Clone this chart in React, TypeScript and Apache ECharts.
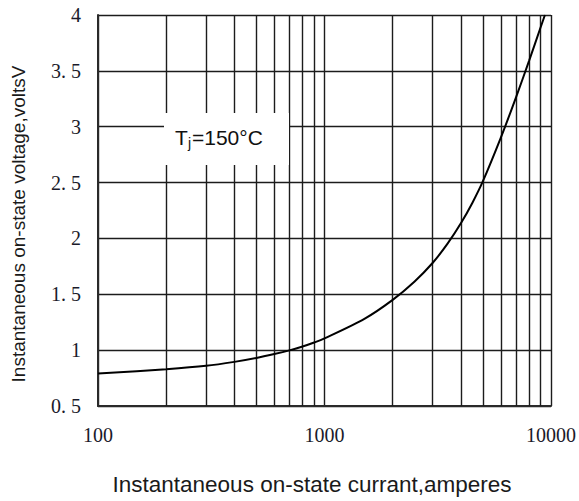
import React, { useEffect, useRef } from "react";
import * as echarts from "echarts";

const currentA = [100, 200, 300, 400, 500, 600, 700, 800, 900, 1000, 1500, 2000, 2500, 3000, 3500, 4000, 4500, 5000, 6000, 7000, 8000, 9000, 9400];
const voltageV = [0.79, 0.83, 0.86, 0.895, 0.93, 0.965, 0.998, 1.032, 1.068, 1.105, 1.28, 1.45, 1.615, 1.78, 1.955, 2.135, 2.32, 2.51, 2.9, 3.26, 3.59, 3.89, 4.0];
const minorGridX = [200, 300, 400, 500, 600, 700, 800, 900, 2000, 3000, 4000, 5000, 6000, 7000, 8000, 9000];
const yTickLabels = ["0. 5", "1", "1. 5", "2", "2. 5", "3", "3. 5", "4"];
const xTitle = "Instantaneous on-state currant,amperes";
const yTitle = "Instantaneous on-state voltage,voltsV";

export default function App() {
  const ref = useRef<HTMLDivElement>(null);
  useEffect(() => {
    document.body.style.margin = "0";
    if (!ref.current) return;
    const chart = echarts.init(ref.current, null, { renderer: "svg" });
    const gridColor = "#1c1c1c";
    const sans = "Liberation Sans, Arial, sans-serif";
    chart.setOption({
      animation: false,
      backgroundColor: "#ffffff",
      grid: { left: 98, right: 27, top: 15, bottom: 95, containLabel: false },
      xAxis: {
        type: "log",
        logBase: 10,
        min: 100,
        max: 10000,
        axisLine: { show: true, onZero: false, lineStyle: { color: "#2a2a2a", width: 2 } },
        axisTick: { show: false },
        splitLine: { show: true, lineStyle: { color: gridColor, width: 1.4 } },
        axisLabel: {
          margin: 19,
          fontFamily: "Liberation Serif, serif",
          fontSize: 20,
          color: "#1a1a2a",
          formatter: (v: number) => String(Math.round(v)),
        },
      },
      yAxis: {
        type: "value",
        min: 0.5,
        max: 4,
        interval: 0.5,
        axisLine: { show: true, lineStyle: { color: "#2a2a2a", width: 2 } },
        axisTick: { show: false },
        splitLine: { show: true, lineStyle: { color: gridColor, width: 1.4 } },
        axisLabel: {
          margin: 17,
          fontFamily: "Liberation Serif, serif",
          fontSize: 20,
          color: "#1a1a2a",
          formatter: (v: number) => yTickLabels[Math.round((v - 0.5) / 0.5)] ?? "",
        },
      },
      series: [
        {
          type: "line",
          data: currentA.map((x, i) => [x, voltageV[i]]),
          smooth: 0.3,
          showSymbol: false,
          clip: true,
          lineStyle: { color: "#000000", width: 2 },
          markLine: {
            silent: true,
            symbol: "none",
            label: { show: false },
            lineStyle: { color: gridColor, width: 1.4, type: "solid" },
            data: minorGridX.map((x) => ({ xAxis: x })),
          },
          z: 5,
        },
      ],
      graphic: [
        { type: "rect", z: 100, shape: { x: 164, y: 113, width: 125, height: 52 }, style: { fill: "#ffffff" } },
        { type: "text", z: 101, x: 175, y: 137, style: { text: "T", fontFamily: sans, fontSize: 21, fill: "#111", verticalAlign: "middle", align: "left" } },
        { type: "text", z: 101, x: 188, y: 143, style: { text: "j", fontFamily: sans, fontSize: 14, fill: "#111", verticalAlign: "middle", align: "left" } },
        { type: "text", z: 101, x: 192, y: 137, style: { text: "=150°C", fontFamily: sans, fontSize: 21, fill: "#111", verticalAlign: "middle", align: "left" } },
        { type: "text", z: 101, x: 312, y: 484, style: { text: xTitle, fontFamily: sans, fontSize: 22.5, fill: "#1a1a1a", verticalAlign: "middle", align: "center" } },
        { type: "text", z: 101, x: 18, y: 224, rotation: Math.PI / 2, style: { text: yTitle, fontFamily: sans, fontSize: 19, fill: "#1a1a1a", verticalAlign: "middle", align: "center" } },
      ],
    });
    return () => chart.dispose();
  }, []);
  return <div ref={ref} style={{ width: 579, height: 501 }} />;
}
